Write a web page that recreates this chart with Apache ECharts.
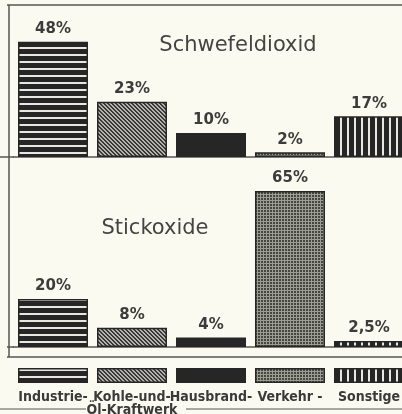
<!DOCTYPE html>
<html>
<head>
<meta charset="utf-8">
<script src="https://cdn.jsdelivr.net/npm/echarts@6/dist/echarts.min.js"></script>
<style>
  html, body { margin: 0; padding: 0; background: #fbfaf0; }
  #chart { width: 402px; height: 414px; }
</style>
</head>
<body>
<div id="chart"></div>
<script>
const categories = ['Industrie-', 'Kohle-und-\nÖl-Kraftwerk', 'Hausbrand-', 'Verkehr -', 'Sonstige'];
const schwefeldioxid = [48, 23, 10, 2, 17];
const stickoxide = [20, 8, 4, 65, 2.5];
const legendValues = [1, 1, 1, 1, 1];
const panelTitles = ['Schwefeldioxid', 'Stickoxide'];

const INK = '#262626';
const PAPER = '#e8e8e0';

// small canvas tiles used as hatch fills
function pattern(w, h, draw) {
  const c = document.createElement('canvas');
  c.width = w; c.height = h;
  draw(c.getContext('2d'));
  return { image: c, repeat: 'repeat' };
}
const fills = [
  pattern(4, 7, g => { g.fillStyle = INK; g.fillRect(0, 0, 4, 7); g.fillStyle = PAPER; g.fillRect(0, 5, 4, 2); }),
  pattern(4, 4, g => {
    g.fillStyle = '#b4b4ac'; g.fillRect(0, 0, 4, 4);
    g.fillStyle = '#383838';
    for (let i = 0; i < 4; i++) { g.fillRect(i, i, 1, 1); g.fillRect((i + 1) % 4, i, 1, 1); }
  }),
  INK,
  pattern(3, 3, g => { g.fillStyle = '#44463f'; g.fillRect(0, 0, 3, 3); g.fillStyle = '#9c9e94'; g.fillRect(0, 2, 3, 1); g.fillRect(2, 0, 1, 3); }),
  pattern(7, 4, g => { g.fillStyle = INK; g.fillRect(0, 0, 7, 4); g.fillStyle = PAPER; g.fillRect(4, 0, 2, 4); })
];

const chart = echarts.init(document.getElementById('chart'));

function bars(idx, values, withLabel) {
  return {
    type: 'bar',
    xAxisIndex: idx,
    yAxisIndex: idx,
    barWidth: 70,
    silent: true,
    data: values.map((v, i) => ({ value: v, itemStyle: { color: fills[i] } })),
    itemStyle: { borderColor: INK, borderWidth: 1.5 },
    label: withLabel ? {
      show: true,
      position: 'top',
      distance: 5,
      fontFamily: 'DejaVu Sans',
      fontWeight: 'bold',
      fontSize: 15,
      color: '#3c3c3c',
      formatter: p => String(p.value).replace('.', ',') + '%'
    } : { show: false }
  };
}

function catAxis(idx, labels) {
  return {
    type: 'category',
    gridIndex: idx,
    data: categories,
    axisTick: { show: false },
    axisLine: { show: !labels, lineStyle: { color: '#555', width: 1.5 } },
    axisLabel: labels ? {
      show: true,
      interval: 0,
      margin: 8,
      fontFamily: 'DejaVu Sans Condensed',
      fontWeight: 'bold',
      fontSize: 14,
      lineHeight: 13,
      color: '#3a3a3a'
    } : { show: false }
  };
}

function valAxis(idx, max) {
  return { type: 'value', gridIndex: idx, min: 0, max: max, show: false, splitLine: { show: false } };
}

const line = (x1, y1, x2, y2, w) => ({
  type: 'line', silent: true,
  shape: { x1, y1, x2, y2 },
  style: { stroke: '#555', lineWidth: w || 1.5 }
});
const heading = (text, x, y) => ({
  type: 'text', silent: true, x, y,
  style: { text, fill: '#444', font: '21px "DejaVu Sans"', textAlign: 'center', textVerticalAlign: 'middle' }
});

const gridBase = { left: 13.5, width: 395, outerBoundsMode: 'none', containLabel: false };

chart.setOption({
  backgroundColor: '#fbfaf0',
  animation: false,
  grid: [
    Object.assign({ top: 13, height: 144 }, gridBase),
    Object.assign({ top: 167, height: 180 }, gridBase),
    Object.assign({ top: 368, height: 15 }, gridBase)
  ],
  xAxis: [catAxis(0, false), catAxis(1, false), catAxis(2, true)],
  yAxis: [valAxis(0, 60), valAxis(1, 75), valAxis(2, 1)],
  series: [bars(0, schwefeldioxid, true), bars(1, stickoxide, true), bars(2, legendValues, false)],
  graphic: [
    line(7, 5, 402, 5),
    line(9, 5, 9, 357),
    line(0, 157, 14, 157),
    line(7, 347, 14, 347),
    line(7, 357, 402, 357),
    line(0, 409, 86, 409, 1),
    line(186, 409, 402, 409, 1),
    heading(panelTitles[0], 238, 46),
    heading(panelTitles[1], 155, 229)
  ]
});
</script>
</body>
</html>
